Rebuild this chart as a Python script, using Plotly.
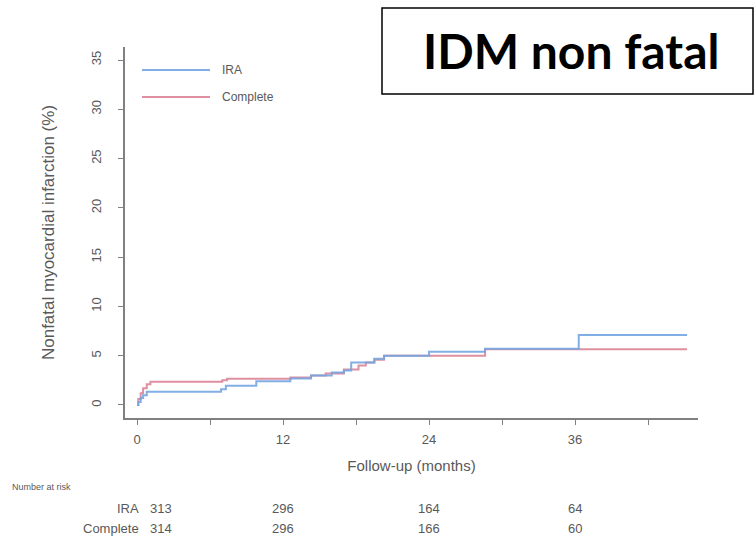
import plotly.graph_objects as go

# ---- data ----
ira_t = [0, 0.1, 0.3, 0.5, 0.8, 6.9, 7.3, 9.8, 12.6, 14.3, 16.0, 17.0, 17.6, 19.5, 20.3, 24.0, 28.6, 36.3, 45.2]
ira_v = [0, 0.3, 0.7, 1.0, 1.35, 1.6, 1.95, 2.4, 2.7, 3.0, 3.3, 3.5, 4.3, 4.7, 5.0, 5.4, 5.7, 7.1, 7.1]

comp_t = [0, 0.1, 0.3, 0.5, 0.8, 1.1, 7.0, 7.4, 12.6, 14.3, 15.5, 17.0, 18.2, 18.8, 19.5, 20.3, 28.6, 45.2]
comp_v = [0, 0.6, 1.2, 1.7, 2.1, 2.35, 2.5, 2.65, 2.8, 3.0, 3.2, 3.6, 4.0, 4.3, 4.6, 5.0, 5.65, 5.65]

series_names = ["IRA", "Complete"]
x_tickvals = [0, 6, 12, 18, 24, 30, 36, 42]
x_ticktext = ["0", "", "12", "", "24", "", "36", ""]
y_tickvals = [0, 5, 10, 15, 20, 25, 30, 35]

risk_times = [0, 12, 24, 36]
risk_ira = [313, 296, 164, 64]
risk_comp = [314, 296, 166, 60]

title_text = "IDM non fatal"

# ---- layout geometry ----
W, H = 755, 541
L, R, T, B = 125, 57, 47, 123
PW, PH = W - L - R, H - T - B

def px(xp):
    return (xp - L) / PW

def py(yp):
    return (H - B - yp) / PH

BLUE = "rgba(115,165,225,0.9)"
RED = "rgba(220,132,150,0.9)"
GRAY = "#595959"
AXIS = "#808080"
FONT = "Liberation Sans, Arial, sans-serif"

fig = go.Figure()
fig.add_trace(go.Scatter(x=comp_t, y=comp_v, mode="lines", line_shape="hv",
                         line=dict(color=RED, width=2), name=series_names[1], showlegend=False))
fig.add_trace(go.Scatter(x=ira_t, y=ira_v, mode="lines", line_shape="hv",
                         line=dict(color=BLUE, width=2), name=series_names[0], showlegend=False))

shapes = []
annotations = []

# manual legend
for i, (name, col) in enumerate(zip(series_names, [BLUE, RED])):
    yy = py(70 + i * 27)
    shapes.append(dict(type="line", xref="paper", yref="paper", x0=px(142), x1=px(210), y0=yy, y1=yy,
                       line=dict(color=col, width=2)))
    annotations.append(dict(xref="paper", yref="paper", x=px(220), y=yy, text=name, showarrow=False,
                            xanchor="left", yanchor="middle", font=dict(size=12, color=GRAY, family=FONT)))

# title box
shapes.append(dict(type="rect", xref="paper", yref="paper", x0=px(382), x1=px(753), y0=py(94), y1=py(8),
                   line=dict(color="black", width=1.5), fillcolor="white", layer="above"))
annotations.append(dict(xref="paper", yref="paper", x=px(571), y=py(50), text="<b>" + title_text + "</b>",
                        showarrow=False, xanchor="center", yanchor="middle",
                        font=dict(size=48, color="black", family="Lato, Open Sans, sans-serif")))

# number at risk table
annotations.append(dict(xref="paper", yref="paper", x=px(10), y=py(487), text="Number at risk",
                        showarrow=False, xanchor="left", yanchor="middle",
                        font=dict(size=9, color=GRAY, family=FONT)))
for j, (name, vals) in enumerate(zip(series_names, [risk_ira, risk_comp])):
    yy = py(508 + j * 20)
    annotations.append(dict(xref="paper", yref="paper", x=px(141), y=yy, text=name, showarrow=False,
                            xanchor="right", yanchor="middle", font=dict(size=13, color=GRAY, family=FONT)))
    for k, (t, v) in enumerate(zip(risk_times, vals)):
        annotations.append(dict(xref="x", yref="paper", x=t, y=yy, text=str(v), showarrow=False,
                                xanchor="left" if k == 0 else "center", xshift=11 if k == 0 else 0,
                                yanchor="middle", font=dict(size=13, color=GRAY, family=FONT)))

fig.update_layout(
    width=W, height=H,
    margin=dict(l=L, r=R, t=T, b=B),
    paper_bgcolor="white", plot_bgcolor="white",
    font=dict(family=FONT, color=GRAY),
    shapes=shapes, annotations=annotations,
    xaxis=dict(range=[-0.99, 46.1], tickvals=x_tickvals, ticktext=x_ticktext,
               showline=True, linecolor=AXIS, linewidth=1.5, ticks="outside", ticklen=5,
               tickcolor=AXIS, tickwidth=1, showgrid=False, zeroline=False,
               tickfont=dict(size=13, color=GRAY), ticklabelstandoff=4,
               title=dict(text="Follow-up (months)", font=dict(size=15, color=GRAY), standoff=14)),
    yaxis=dict(range=[-1.32, 36.32], tickvals=y_tickvals, tickangle=-90,
               showline=True, linecolor=AXIS, linewidth=1.5, ticks="outside", ticklen=5,
               tickcolor=AXIS, tickwidth=1, showgrid=False, zeroline=False,
               tickfont=dict(size=13, color=GRAY), ticklabelstandoff=12,
               title=dict(text="Nonfatal myocardial infarction (%)", font=dict(size=17, color=GRAY), standoff=30)),
)

fig.write_html("out.html", config={"displayModeBar": False},
               post_script="document.body.style.margin='0';document.body.style.overflow='hidden';")
